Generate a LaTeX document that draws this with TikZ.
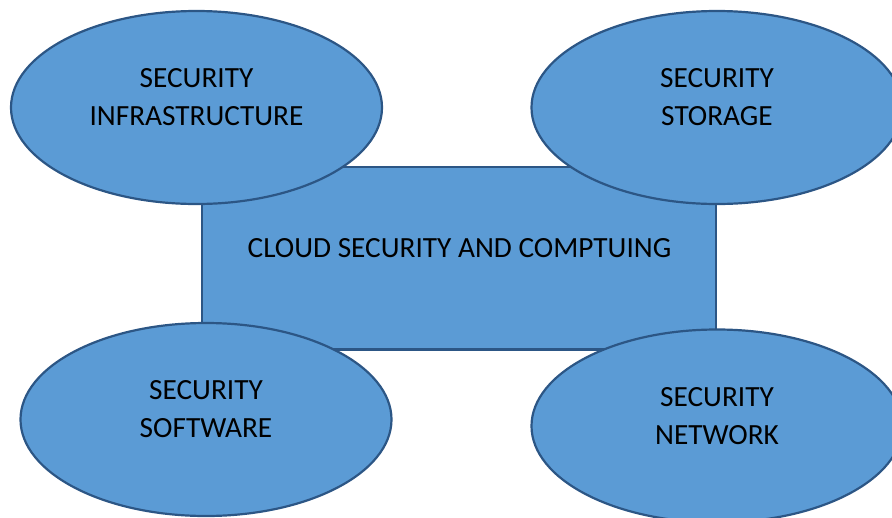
\documentclass[tikz,border=0pt]{standalone}
\usepackage{fontspec}
\setmainfont{Carlito}
\usetikzlibrary{shapes.geometric}
\definecolor{boxfill}{HTML}{5B9BD5}
\definecolor{boxline}{HTML}{2C5685}
\tikzset{
  blob/.style={ellipse, draw=boxline, fill=boxfill, line width=2.2pt, inner sep=0pt,
    minimum width=371pt, minimum height=193pt},
  panel/.style={rectangle, draw=boxline, fill=boxfill, line width=2.2pt, inner sep=0pt,
    minimum width=514pt, minimum height=182.5pt},
  words/.style={align=center, font=\fontsize{29.3}{38}\selectfont, text=black, inner sep=0pt}
}
\begin{document}
\begin{tikzpicture}[x=1pt,y=-1pt]
\useasboundingbox (0,0) rectangle (892,517);
\node[panel] (core) at (459,258.25) {};
\node[words] (coretxt) at (459.5,248) {CLOUD SECURITY AND COMPTUING};
\node[blob] (infra) at (196.5,107.5) {};
\node[words] (infratxt) at ([yshift=10pt]infra.center) {SECURITY\\INFRASTRUCTURE};
\node[blob] (stor) at (717,107.5) {};
\node[words] (stortxt) at ([yshift=10pt]stor.center) {SECURITY\\STORAGE};
\node[blob] (soft) at (206,419.5) {};
\node[words] (softtxt) at ([yshift=10pt]soft.center) {SECURITY\\SOFTWARE};
\node[blob] (net) at (717,426) {};
\node[words] (nettxt) at ([yshift=10pt]net.center) {SECURITY\\NETWORK};
\end{tikzpicture}
\end{document}
